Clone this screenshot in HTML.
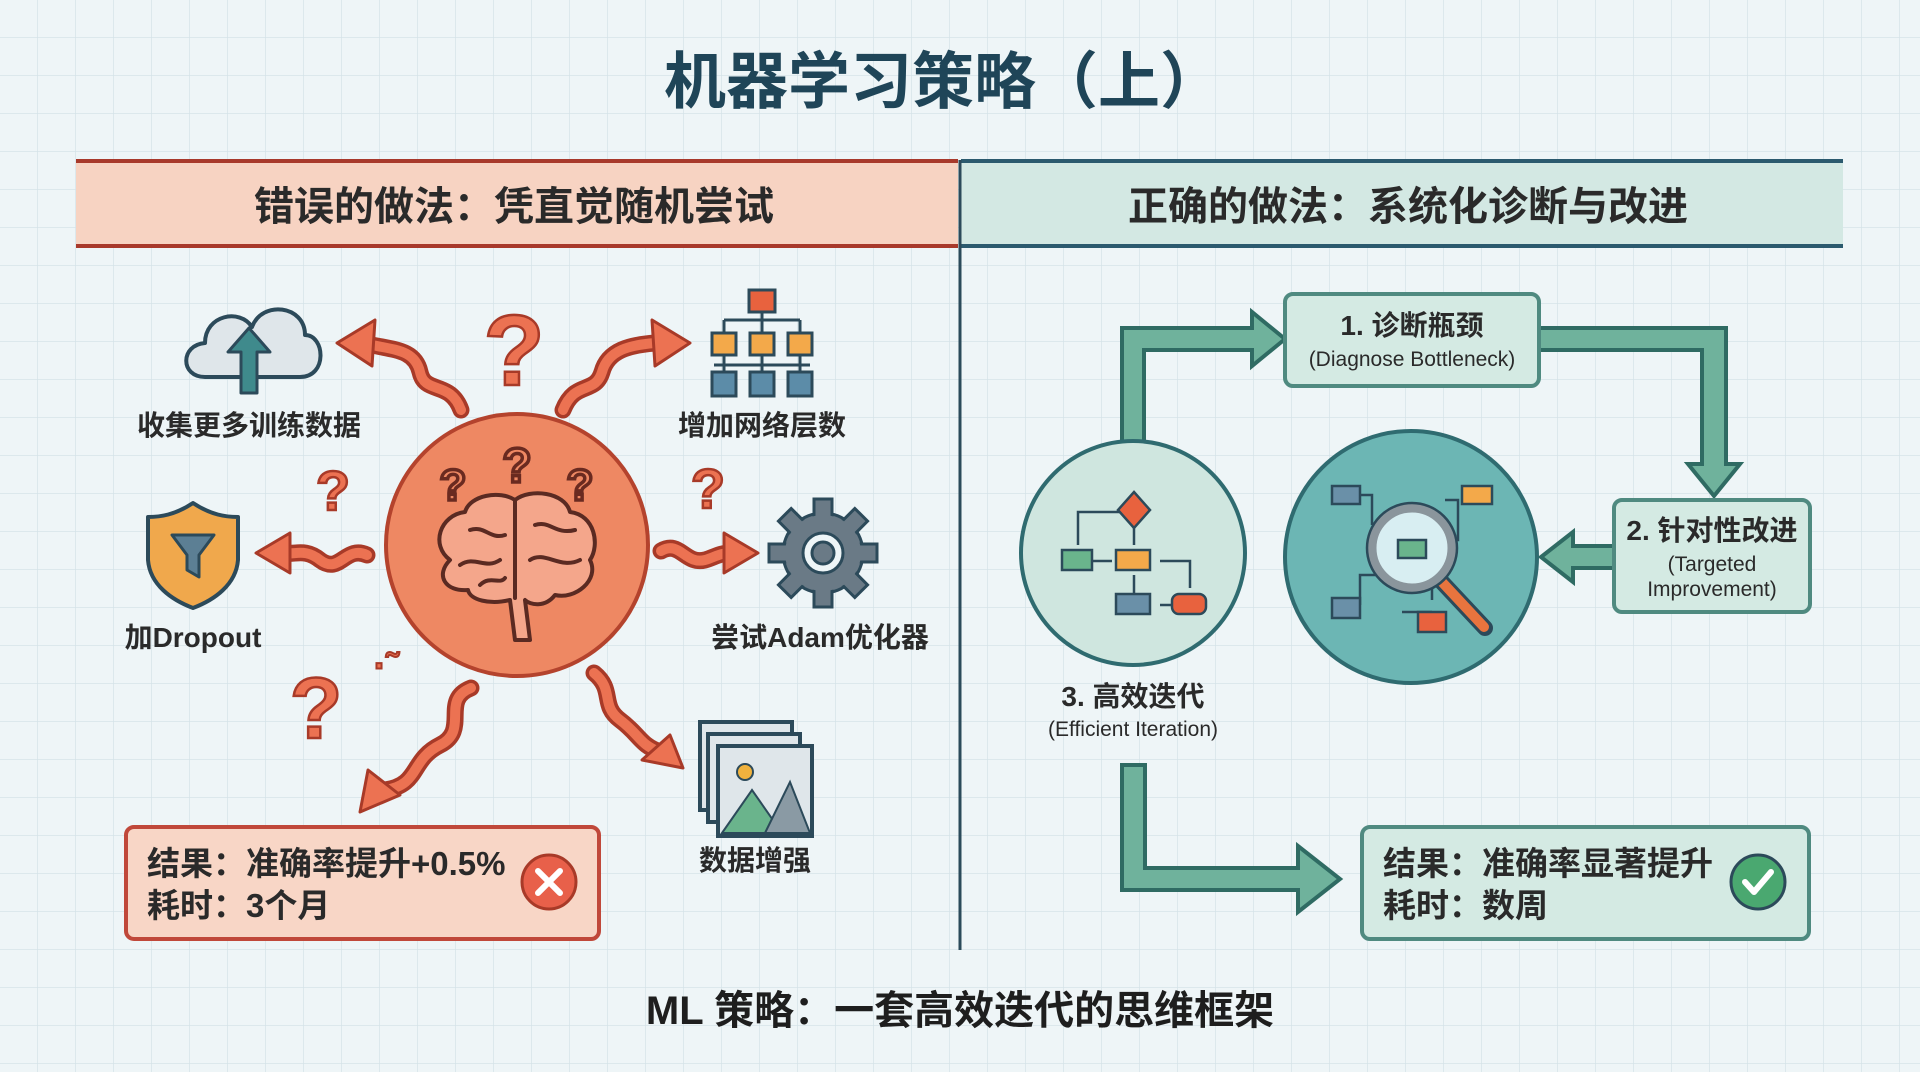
<!DOCTYPE html>
<html><head><meta charset="utf-8"><style>
html,body{margin:0;padding:0;background:#eef5f7;}
svg{display:block}
text{font-family:"Liberation Sans","Noto Sans CJK SC",sans-serif;font-weight:bold;}
</style></head><body>
<svg width="1920" height="1072" viewBox="0 0 1920 1072" xmlns="http://www.w3.org/2000/svg">
<defs>
<pattern id="g" width="38" height="38" patternUnits="userSpaceOnUse">
<path d="M38 0V38M0 38H38" stroke="#d5e3e8" stroke-width="1.5" fill="none"/>
</pattern>
</defs>
<rect width="1920" height="1072" fill="#eef5f7"/>
<rect width="1920" height="1072" fill="url(#g)"/>

<!-- title -->
<text x="943" y="103" font-size="62" fill="#1f4558" text-anchor="middle">机器学习策略（上）</text>

<!-- headers -->
<rect x="76" y="160" width="882" height="87" fill="#f7d3c2"/>
<line x1="76" y1="161" x2="958" y2="161" stroke="#a8392b" stroke-width="4"/>
<line x1="76" y1="246" x2="958" y2="246" stroke="#a8392b" stroke-width="4"/>
<text x="514" y="220" font-size="40" fill="#2a2a2a" text-anchor="middle">错误的做法：凭直觉随机尝试</text>
<rect x="961" y="160" width="882" height="87" fill="#d3e8e3"/>
<line x1="961" y1="161" x2="1843" y2="161" stroke="#2b5a6e" stroke-width="4"/>
<line x1="961" y1="246" x2="1843" y2="246" stroke="#2b5a6e" stroke-width="4"/>
<text x="1408" y="220" font-size="40" fill="#2a2a2a" text-anchor="middle">正确的做法：系统化诊断与改进</text>
<line x1="960" y1="160" x2="960" y2="950" stroke="#2b4a5a" stroke-width="3"/>

<!-- footer -->
<text x="960" y="1024" font-size="40" fill="#1e1e1e" text-anchor="middle">ML 策略：一套高效迭代的思维框架</text>

<!-- ================= LEFT ================= -->
<!-- wavy arrows -->
<g fill="none" stroke-linecap="round" stroke-linejoin="round">
<g stroke="#a83a28" stroke-width="17">
<path d="M461,410 C450,380 425,395 420,372 C415,350 395,350 372,345"/>
<path d="M563,410 C575,380 595,395 602,372 C608,350 630,345 655,343"/>
<path d="M367,555 C345,545 340,575 320,560 C305,548 295,555 285,553"/>
<path d="M661,551 C680,540 685,565 705,560 C715,557 720,553 730,553"/>
<path d="M471,688 C440,700 470,730 440,745 C410,760 420,785 385,790"/>
<path d="M594,673 C615,690 600,705 620,720 C640,735 640,745 660,752"/>
</g>
<g stroke="#ec7252" stroke-width="10">
<path d="M461,410 C450,380 425,395 420,372 C415,350 395,350 372,345"/>
<path d="M563,410 C575,380 595,395 602,372 C608,350 630,345 655,343"/>
<path d="M367,555 C345,545 340,575 320,560 C305,548 295,555 285,553"/>
<path d="M661,551 C680,540 685,565 705,560 C715,557 720,553 730,553"/>
<path d="M471,688 C440,700 470,730 440,745 C410,760 420,785 385,790"/>
<path d="M594,673 C615,690 600,705 620,720 C640,735 640,745 660,752"/>
</g>
</g>
<g fill="#ec7252" stroke="#a83a28" stroke-width="3" stroke-linejoin="round">
<polygon points="337,343 375,320 372,366"/>
<polygon points="690,343 652,320 655,366"/>
<polygon points="256,553 290,533 290,573"/>
<polygon points="758,553 724,533 724,573"/>
<polygon points="360,812 368,770 400,795"/>
<polygon points="683,768 642,760 670,735"/>
</g>

<!-- question marks -->
<g fill="#ec7252" stroke="#a83a28" stroke-width="2.5" text-anchor="middle">
<text x="514" y="385" font-size="100">?</text>
<text x="333" y="510" font-size="56">?</text>
<text x="708" y="508" font-size="56">?</text>
<text x="316" y="738" font-size="86">?</text>
</g>
<text x="374" y="678" font-size="36" fill="#ec7252" stroke="#a83a28" stroke-width="2">·˜</text>

<!-- brain circle -->
<circle cx="517" cy="545" r="131" fill="#ee8863" stroke="#b4432d" stroke-width="4"/>
<g fill="none" stroke="#6a2a20" stroke-width="3.5" text-anchor="middle">
<text x="453" y="500" font-size="44" fill="#ee8863">?</text>
<text x="517" y="482" font-size="48" fill="#ee8863">?</text>
<text x="580" y="500" font-size="44" fill="#ee8863">?</text>
</g>
<g stroke="#5a2a22" stroke-width="4" stroke-linejoin="round" stroke-linecap="round">
<path d="M450,560 C430,545 440,515 465,512 C470,495 500,490 515,500 C530,488 565,492 570,512 C595,515 600,545 590,560 C600,580 575,600 555,595 C545,608 530,605 525,600 L530,640 L515,640 L510,600 C490,605 470,600 468,590 C445,592 435,575 450,560Z" fill="#f4a68b"/>
<path d="M515,500 L515,598 M470,530 C485,525 490,540 505,535 M460,565 C475,555 485,570 500,560 M535,525 C550,520 555,535 575,530 M530,560 C545,550 560,570 580,560 M480,585 C490,575 500,585 505,578" fill="none"/>
</g>

<!-- cloud icon -->
<path d="M205,377 C180,377 180,345 205,343 C205,315 240,308 252,327 C262,300 305,305 305,335 C325,335 328,377 300,377Z" fill="#dfe6ea" stroke="#2c4a5a" stroke-width="4" stroke-linejoin="round"/>
<polygon points="249,328 228,352 241,352 241,393 257,393 257,352 270,352" fill="#3f8a8c" stroke="#2c4a5a" stroke-width="3" stroke-linejoin="round"/>
<text x="249" y="435" font-size="28" fill="#2a2a2a" text-anchor="middle">收集更多训练数据</text>

<!-- network icon -->
<g stroke="#2c4a5a" stroke-width="3" fill="none">
<path d="M762,310 V320 M724,320 H800 M724,320 V332 M762,320 V332 M800,320 V332 M724,355 V372 M762,355 V372 M800,355 V372 M714,365 H810"/>
</g>
<rect x="749" y="290" width="26" height="22" fill="#e8623e" stroke="#2c4a5a" stroke-width="3"/>
<g fill="#f3a94a" stroke="#2c4a5a" stroke-width="3">
<rect x="712" y="333" width="24" height="22"/><rect x="750" y="333" width="24" height="22"/><rect x="788" y="333" width="24" height="22"/>
</g>
<g fill="#5c8ca8" stroke="#2c4a5a" stroke-width="3">
<rect x="712" y="372" width="24" height="24"/><rect x="750" y="372" width="24" height="24"/><rect x="788" y="372" width="24" height="24"/>
</g>
<text x="762" y="435" font-size="28" fill="#2a2a2a" text-anchor="middle">增加网络层数</text>

<!-- shield -->
<path d="M193,503 C175,515 160,517 148,517 L148,560 C150,585 172,600 193,608 C214,600 236,585 238,560 L238,517 C226,517 211,515 193,503Z" fill="#f0a84c" stroke="#2c4a5a" stroke-width="4" stroke-linejoin="round"/>
<path d="M172,535 H214 L199,555 V577 L187,570 V555Z" fill="#5c7f94" stroke="#2c4a5a" stroke-width="3" stroke-linejoin="round"/>
<text x="193" y="647" font-size="28" fill="#2a2a2a" text-anchor="middle">加Dropout</text>

<!-- gear -->
<g transform="translate(823,553)">
<g fill="#6a7a86" stroke="#2c4a5a" stroke-width="3">
<circle r="40"/>
<g>
<rect x="-9" y="-54" width="18" height="20"/>
<rect x="-9" y="-54" width="18" height="20" transform="rotate(45)"/>
<rect x="-9" y="-54" width="18" height="20" transform="rotate(90)"/>
<rect x="-9" y="-54" width="18" height="20" transform="rotate(135)"/>
<rect x="-9" y="-54" width="18" height="20" transform="rotate(180)"/>
<rect x="-9" y="-54" width="18" height="20" transform="rotate(225)"/>
<rect x="-9" y="-54" width="18" height="20" transform="rotate(270)"/>
<rect x="-9" y="-54" width="18" height="20" transform="rotate(315)"/>
</g>
</g>
<circle r="38" fill="#6a7a86"/>
<circle r="20" fill="#eef5f7" stroke="#2c4a5a" stroke-width="3"/>
<circle r="11" fill="#6a7a86" stroke="#2c4a5a" stroke-width="3"/>
</g>
<text x="820" y="647" font-size="28" fill="#2a2a2a" text-anchor="middle">尝试Adam优化器</text>

<!-- images stack -->
<rect x="700" y="722" width="92" height="88" fill="#dfe6ea" stroke="#2c4a5a" stroke-width="4"/>
<rect x="708" y="734" width="92" height="88" fill="#dfe6ea" stroke="#2c4a5a" stroke-width="4"/>
<rect x="718" y="746" width="94" height="90" fill="#dfe6ea" stroke="#2c4a5a" stroke-width="4"/>
<circle cx="745" cy="772" r="8" fill="#f0b23e" stroke="#2c4a5a" stroke-width="2"/>
<polygon points="722,833 752,790 782,833" fill="#6ab48c" stroke="#2c4a5a" stroke-width="2"/>
<polygon points="765,833 790,782 810,833" fill="#8a9aa4" stroke="#2c4a5a" stroke-width="2"/>
<text x="755" y="870" font-size="28" fill="#2a2a2a" text-anchor="middle">数据增强</text>

<!-- result left -->
<rect x="126" y="827" width="473" height="112" rx="8" fill="#f8d6c6" stroke="#c0483a" stroke-width="4"/>
<text x="147" y="875" font-size="33" fill="#2a2a2a">结果：准确率提升+0.5%</text>
<text x="147" y="917" font-size="33" fill="#2a2a2a">耗时：3个月</text>
<circle cx="549" cy="882" r="27" fill="#e8604a" stroke="#a83a28" stroke-width="3"/>
<path d="M538,871 L560,893 M560,871 L538,893" stroke="#fff" stroke-width="6" stroke-linecap="round"/>

<!-- ================= RIGHT ================= -->
<!-- big green arrows -->
<g fill="#6fb29c" stroke="#2f6b63" stroke-width="4" stroke-linejoin="miter">
<polygon points="1122,445 1122,328 1252,328 1252,312 1285,339 1252,366 1252,350 1144,350 1144,445"/>
<polygon points="1539,328 1726,328 1726,464 1740,464 1714,496 1688,464 1702,464 1702,350 1539,350"/>
<polygon points="1614,546 1573,546 1573,532 1541,557 1573,582 1573,568 1614,568"/>
<polygon points="1122,765 1145,765 1145,868 1298,868 1298,846 1340,879 1298,912 1298,890 1122,890"/>
</g>

<!-- box 1 -->
<rect x="1285" y="294" width="254" height="92" rx="8" fill="#d4eae3" stroke="#4f8a80" stroke-width="4"/>
<text x="1412" y="335" font-size="28" fill="#2a2a2a" text-anchor="middle">1. 诊断瓶颈</text>
<text x="1412" y="366" font-size="21" fill="#2a2a2a" text-anchor="middle" font-weight="normal" style="font-weight:normal">(Diagnose Bottleneck)</text>

<!-- box 2 -->
<rect x="1614" y="500" width="196" height="112" rx="8" fill="#d4eae3" stroke="#4f8a80" stroke-width="4"/>
<text x="1712" y="540" font-size="28" fill="#2a2a2a" text-anchor="middle">2. 针对性改进</text>
<text x="1712" y="571" font-size="21" fill="#2a2a2a" text-anchor="middle" style="font-weight:normal">(Targeted</text>
<text x="1712" y="596" font-size="21" fill="#2a2a2a" text-anchor="middle" style="font-weight:normal">Improvement)</text>

<!-- circle left (flowchart) -->
<circle cx="1133" cy="553" r="112" fill="#cfe6df" stroke="#2f6b70" stroke-width="4"/>
<g stroke="#2c4a5a" stroke-width="2.5" fill="none">
<path d="M1120,512 H1078 V545 M1134,525 V545 M1092,561 H1112 M1160,561 H1190 V588 M1134,575 V595 M1160,605 H1172"/>
</g>
<polygon points="1134,492 1150,510 1134,528 1118,510" fill="#e8623e" stroke="#2c4a5a" stroke-width="2.5"/>
<rect x="1062" y="550" width="30" height="20" fill="#6ab48c" stroke="#2c4a5a" stroke-width="2.5"/>
<rect x="1116" y="550" width="34" height="20" fill="#f3a94a" stroke="#2c4a5a" stroke-width="2.5"/>
<rect x="1116" y="594" width="34" height="20" fill="#6a90a8" stroke="#2c4a5a" stroke-width="2.5"/>
<rect x="1172" y="594" width="34" height="20" rx="7" fill="#e8623e" stroke="#2c4a5a" stroke-width="2.5"/>
<text x="1133" y="706" font-size="28" fill="#2a2a2a" text-anchor="middle">3. 高效迭代</text>
<text x="1133" y="736" font-size="21" fill="#2a2a2a" text-anchor="middle" style="font-weight:normal">(Efficient Iteration)</text>

<!-- circle middle (magnifier) -->
<circle cx="1411" cy="557" r="126" fill="#6cb6b4" stroke="#2f6b70" stroke-width="4"/>
<g stroke="#2c4a5a" stroke-width="2.5" fill="none">
<path d="M1356,495 H1372 V525 M1445,500 H1458 V540 H1440 M1380,575 H1360 V605 M1402,612 H1432 M1432,600 V580"/>
</g>
<rect x="1332" y="486" width="28" height="18" fill="#6a90a8" stroke="#2c4a5a" stroke-width="2.5"/>
<rect x="1462" y="486" width="30" height="18" fill="#f3a94a" stroke="#2c4a5a" stroke-width="2.5"/>
<rect x="1332" y="598" width="28" height="20" fill="#6a90a8" stroke="#2c4a5a" stroke-width="2.5"/>
<rect x="1418" y="612" width="28" height="20" fill="#e8623e" stroke="#2c4a5a" stroke-width="2.5"/>
<line x1="1440" y1="580" x2="1485" y2="628" stroke="#2c4a5a" stroke-width="16" stroke-linecap="round"/>
<line x1="1442" y1="582" x2="1484" y2="627" stroke="#e8743e" stroke-width="10" stroke-linecap="round"/>
<circle cx="1412" cy="548" r="40" fill="#d8eef2" stroke="#8a959c" stroke-width="9"/>
<circle cx="1412" cy="548" r="45" fill="none" stroke="#2c4a5a" stroke-width="2.5"/>
<rect x="1398" y="540" width="28" height="18" fill="#6ab48c" stroke="#2c4a5a" stroke-width="2.5"/>

<!-- result right -->
<rect x="1362" y="827" width="447" height="112" rx="8" fill="#d4eae3" stroke="#4f8a80" stroke-width="4"/>
<text x="1383" y="875" font-size="33" fill="#2a2a2a">结果：准确率显著提升</text>
<text x="1383" y="917" font-size="33" fill="#2a2a2a">耗时：数周</text>
<circle cx="1758" cy="882" r="27" fill="#4aa870" stroke="#2c4a5a" stroke-width="3"/>
<path d="M1745,882 L1754,892 L1771,872" stroke="#fff" stroke-width="6" fill="none" stroke-linecap="round" stroke-linejoin="round"/>
</svg>
</body></html>
